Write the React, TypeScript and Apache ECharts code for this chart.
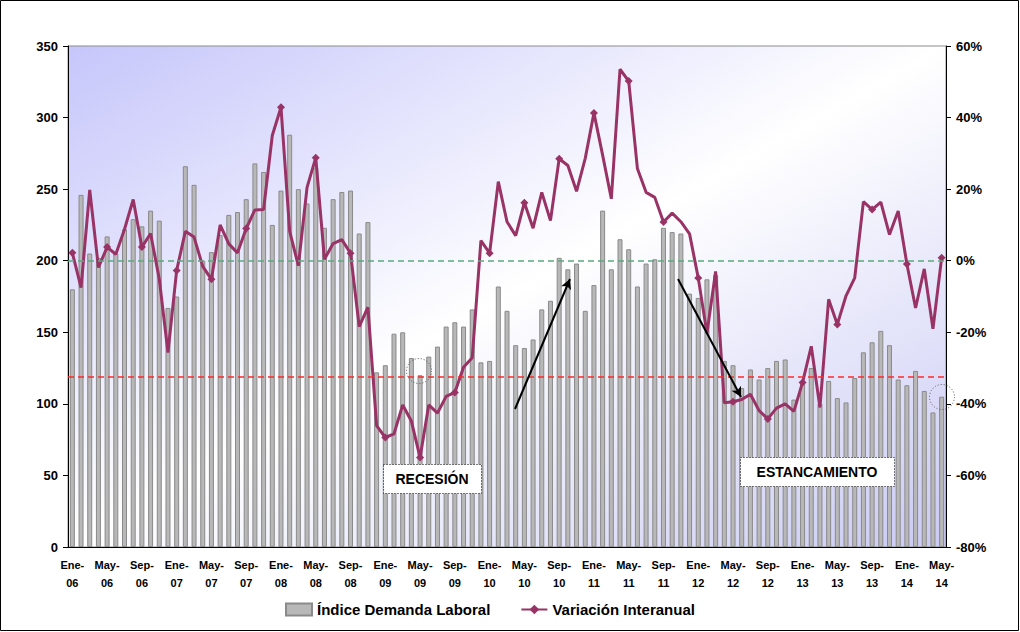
import React, { useEffect, useRef } from "react";
import * as echarts from "echarts";

const monthNames = ["Ene", "Feb", "Mar", "Abr", "May", "Jun", "Jul", "Ago", "Sep", "Oct", "Nov", "Dic"];
const categories: string[] = [];
for (let y = 2006; y <= 2014; y++) {
  for (let m = 0; m < 12; m++) {
    if (y === 2014 && m > 4) break;
    categories.push(monthNames[m] + "-" + String(y).slice(2));
  }
}

const demandIndex = [
  180, 246, 205, 202, 217, 205, 222, 229, 224, 235,
  228, 167, 175, 266, 253, 200, 206, 218, 232, 234,
  243, 268, 262, 225, 249, 288, 250, 240, 265, 223,
  243, 248, 249, 219, 227, 122, 127, 149, 150, 132,
  120, 133, 140, 154, 157, 154, 166, 129, 130, 182,
  165, 141, 139, 145, 166, 172, 202, 194, 198, 165,
  183, 235, 194, 215, 208, 182, 198, 201, 223, 220,
  219, 177, 174, 187, 190, 130, 127, 111, 124, 117,
  125, 130, 131, 103, 115, 125, 100, 116, 104, 101,
  118, 136, 143, 151, 141, 117, 113, 123, 109, 94, 105,
];

const yearlyChange = [
  2.2, -7.5, 19.8, -1.9, 3.8, 1.8, 8.8, 17.1, 3.8, 7.6,
  -5.1, -25.7, -2.7, 8.2, 6.6, -1.6, -5.2, 10, 4.7, 2.2,
  9.0, 14.2, 14.3, 35.0, 42.9, 8.2, -1.4, 20.5, 28.8, 0.4,
  4.8, 5.9, 2.1, -18.4, -13, -46.1, -49.4, -48.4, -40.3, -44.8,
  -55, -40.3, -42.6, -37.9, -36.8, -29.8, -27.1, 5.6, 2.1, 22.1,
  10.9, 7, 16.2, 9.1, 19.1, 11.2, 28.5, 26.6, 19.4, 28.6,
  41.3, 29.5, 17.3, 53.5, 50.2, 25.8, 19.1, 17.7, 10.8, 13.3,
  10.9, 7.5, -4.8, -20.3, -3.0, -39.7, -39.4, -38.8, -37.3, -41.9,
  -44.2, -41.2, -40, -42.1, -34, -23.9, -41, -10.8, -17.8, -9.8,
  -4.8, 16.5, 14.3, 16.4, 7.3, 13.9, -0.9, -13.2, -2.3, -19, 0.8,
];

const referenceLevel = 118.8;

const FONT = "Liberation Sans, Arial, sans-serif";

export default function App() {
  const ref = useRef<HTMLDivElement>(null);
  useEffect(() => {
    if (!ref.current) return;
    const chart = echarts.init(ref.current, undefined, { renderer: "svg" });
    const option: any = {
      animation: false,
      backgroundColor: "#ffffff",
      grid: {
        left: 68,
        right: 74,
        top: 46,
        bottom: 85,
        show: true,
        borderColor: "#8c8c8c",
        borderWidth: 1,
        backgroundColor: new echarts.graphic.LinearGradient(0, 0, 1, 1, [
          { offset: 0, color: "#c6c6fb" },
          { offset: 0.5, color: "#ffffff" },
          { offset: 1, color: "#cacaf5" },
        ]),
      },
      legend: {
        top: 597,
        left: 280,
        itemGap: 30,
        itemWidth: 26,
        itemHeight: 12,
        textStyle: { fontFamily: FONT, fontWeight: "bold", fontSize: 15, color: "#000" },
        data: [
          { name: "Índice Demanda Laboral", icon: "rect" },
          { name: "Variación Interanual" },
        ],
      },
      xAxis: {
        type: "category",
        data: categories,
        boundaryGap: true,
        axisLine: { lineStyle: { color: "#000", width: 1 } },
        axisTick: { interval: 0, length: 5, lineStyle: { color: "#000" } },
        axisLabel: {
          interval: 3,
          fontFamily: FONT,
          fontWeight: "bold",
          fontSize: 11,
          color: "#000",
          lineHeight: 18,
          margin: 9,
          formatter: (v: string) => v.replace("-", "-\n"),
        },
        splitLine: { show: false },
      },
      yAxis: [
        {
          type: "value",
          min: 0,
          max: 350,
          interval: 50,
          position: "left",
          axisLine: { show: true, lineStyle: { color: "#000" } },
          axisTick: { show: true, length: 5, lineStyle: { color: "#000" } },
          axisLabel: { fontFamily: FONT, fontWeight: "bold", fontSize: 13, color: "#000", margin: 10 },
          splitLine: { show: false },
        },
        {
          type: "value",
          min: -80,
          max: 60,
          interval: 20,
          position: "right",
          axisLine: { show: true, lineStyle: { color: "#000" } },
          axisTick: { show: true, length: 5, lineStyle: { color: "#000" } },
          axisLabel: {
            fontFamily: FONT,
            fontWeight: "bold",
            fontSize: 13,
            color: "#000",
            margin: 10,
            formatter: "{value}%",
          },
          splitLine: { show: false },
        },
      ],
      series: [
        {
          name: "Índice Demanda Laboral",
          type: "bar",
          yAxisIndex: 0,
          data: demandIndex,
          barWidth: 5,
          itemStyle: { color: "#b8b8b8", borderColor: "#8a8a8a", borderWidth: 1 },
          markLine: {
            silent: true,
            symbol: "none",
            label: { show: false },
            lineStyle: { color: "#ff2a2a", type: [6, 4], width: 1.5 },
            data: [{ yAxis: referenceLevel }],
          },
          z: 2,
        },
        {
          name: "Variación Interanual",
          type: "line",
          yAxisIndex: 1,
          data: yearlyChange,
          color: "#993366",
          lineStyle: { color: "#993366", width: 3 },
          itemStyle: { color: "#993366" },
          symbol: "diamond",
          symbolSize: 8,
          markLine: {
            silent: true,
            symbol: "none",
            label: { show: false },
            lineStyle: { color: "#5aa97f", type: [6, 4], width: 1.5 },
            data: [{ yAxis: 0 }],
          },
          z: 4,
        },
        {
          name: "arrows",
          type: "line",
          data: [],
          markLine: {
            silent: true,
            symbol: ["none", "arrow"],
            symbolSize: [8, 10],
            label: { show: false },
            lineStyle: { color: "#000", type: "solid", width: 2 },
            data: [
              [{ x: 515, y: 409 }, { x: 570, y: 279 }],
              [{ x: 678, y: 279 }, { x: 741, y: 397 }],
            ],
          },
          z: 5,
        },
      ],
      graphic: [
        {
          type: "rect",
          shape: { x: 0.5, y: 0.5, width: 1018, height: 630 },
          style: { fill: "none", stroke: "#000", lineWidth: 1 },
          silent: true,
          z: 100,
        },
        {
          type: "rect",
          shape: { x: 383.5, y: 464.5, width: 98, height: 29 },
          style: { fill: "#ffffff", stroke: "#000", lineWidth: 1, lineDash: [1, 2] },
          z: 50,
        },
        {
          type: "text",
          x: 432,
          y: 479,
          style: {
            text: "RECESIÓN",
            fontFamily: FONT,
            fontWeight: "bold",
            fontSize: 14,
            fill: "#000",
            align: "center",
            verticalAlign: "middle",
          },
          z: 51,
        },
        {
          type: "rect",
          shape: { x: 740.5, y: 457.5, width: 154, height: 29 },
          style: { fill: "#ffffff", stroke: "#000", lineWidth: 1, lineDash: [1, 2] },
          z: 50,
        },
        {
          type: "text",
          x: 817,
          y: 471.5,
          style: {
            text: "ESTANCAMIENTO",
            fontFamily: FONT,
            fontWeight: "bold",
            fontSize: 14,
            fill: "#000",
            align: "center",
            verticalAlign: "middle",
          },
          z: 51,
        },
        {
          type: "circle",
          shape: { cx: 419, cy: 371, r: 12.5 },
          style: { fill: "none", stroke: "#555", lineWidth: 1, lineDash: [1, 2] },
          z: 50,
        },
        {
          type: "circle",
          shape: { cx: 942, cy: 397, r: 12.5 },
          style: { fill: "none", stroke: "#555", lineWidth: 1, lineDash: [1, 2] },
          z: 50,
        },
      ],
    };
    chart.setOption(option);
    return () => chart.dispose();
  }, []);
  return (
    <div
      ref={ref}
      style={{ position: "fixed", left: 0, top: 0, width: 1020, height: 632 }}
    />
  );
}
